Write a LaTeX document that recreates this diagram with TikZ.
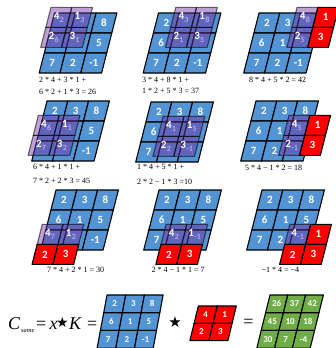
\documentclass[tikz,border=0pt]{standalone}
\usepackage{fontspec}
\setmainfont{Liberation Serif}
\newfontfamily\numfont{Carlito}
\newfontfamily\symfont{DejaVu Sans}
\definecolor{cblue}{RGB}{83,148,212}
\definecolor{cpurple}{RGB}{112,48,160}
\definecolor{clav}{RGB}{190,165,232}
\definecolor{cgreen}{RGB}{112,173,71}
\def\setiv#1#2#3{\expandafter\def\csname iv#1#2\endcsname{#3}}
\setiv00{2}\setiv01{3}\setiv02{8}
\setiv10{6}\setiv11{1}\setiv12{5}
\setiv20{7}\setiv21{2}\setiv22{-1}
\def\setkv#1#2#3{\expandafter\def\csname kv#1#2\endcsname{#3}}
\setkv00{4}\setkv01{1}\setkv10{2}\setkv11{3}
\newcommand\subn{\color{clav}\fontsize{8}{8}\selectfont}
\newcommand\convpanel[4]{%
\begin{scope}[shift={(#1pt,-#2pt)}, x={(20.8pt,0pt)}, y={(-5.1pt,-20pt)}]
\foreach \r in {0,1,2}{\foreach \c in {0,1,2}{
  \draw[cellb] (\c,\r) -- ++(1,0) -- ++(0,1) -- ++(-1,0) -- cycle;
  \pgfmathtruncatemacro\cov{and(and(\c>=#3,\c<=#3+1),and(\r>=#4,\r<=#4+1))}
  \ifnum\cov=0
    \node[num] at (\c+0.5,\r+0.5) {\csname iv\r\c\endcsname};
  \fi
}}
\foreach \i in {0,1}{\foreach \j in {0,1}{
  \pgfmathtruncatemacro\gr{#4+\i}
  \pgfmathtruncatemacro\gc{#3+\j}
  \pgfmathtruncatemacro\ins{and(\gr<3,\gc<3)}
  \ifnum\ins=1
    \fill[kpur] (\gc-0.24,\gr-0.28) -- ++(1,0) -- ++(0,1) -- ++(-1,0) -- cycle;
  \else
    \fill[red] (\gc-0.24,\gr-0.28) -- ++(1,0) -- ++(0,1) -- ++(-1,0) -- cycle;
  \fi
}}
\foreach \i in {0,1}{\foreach \j in {0,1}{
  \pgfmathtruncatemacro\gr{#4+\i}
  \pgfmathtruncatemacro\gc{#3+\j}
  \pgfmathtruncatemacro\ins{and(\gr<3,\gc<3)}
  \ifnum\ins=1
    \draw[kborder] (\gc-0.24,\gr-0.28) -- ++(1,0) -- ++(0,1) -- ++(-1,0) -- cycle;
    \node[num] at (\gc+0.26,\gr+0.22) {\csname kv\i\j\endcsname\kern0.3pt\raisebox{-3pt}{\subn\csname iv\gr\gc\endcsname}};
  \else
    \draw[kredb] (\gc-0.24,\gr-0.28) -- ++(1,0) -- ++(0,1) -- ++(-1,0) -- cycle;
    \node[num] at (\gc+0.26,\gr+0.22) {\csname kv\i\j\endcsname};
  \fi
}}
\end{scope}}
\begin{document}
\begin{tikzpicture}[
  cellb/.style={fill=cblue, draw=black, line width=1.1pt, line join=round},
  kpur/.style={fill=cpurple, fill opacity=0.45},
  kborder/.style={draw=black, draw opacity=0.55, line width=1.1pt, line join=round},
  kredb/.style={draw=black, line width=1.1pt, line join=round},
  num/.style={text=white, font=\numfont\bfseries\fontsize{11}{11}\selectfont, inner sep=0pt},
  snum/.style={text=white, font=\numfont\bfseries\fontsize{9}{9}\selectfont, inner sep=0pt},
  fml/.style={font=\fontsize{8}{9}\selectfont, inner sep=0pt, anchor=west},
  eqt/.style={font=\fontsize{18}{18}\selectfont, inner sep=0pt, anchor=base west}
]
\useasboundingbox (0,0) rectangle (335pt,-348pt);
\fill[white] (0,0) rectangle (335pt,-348pt);
% panels
\convpanel{54.5}{13}{0}{0}
\convpanel{158.5}{13}{1}{0}
\convpanel{259}{13}{2}{0}
\convpanel{47}{101}{0}{1}
\convpanel{151}{102}{1}{1}
\convpanel{256}{101}{2}{1}
\convpanel{56}{190}{0}{2}
\convpanel{159}{190}{1}{2}
\convpanel{262}{190}{2}{2}
% formulas
\node[fml] (f1a) at (39pt,-79.5pt) {2 * 4 + 3 * 1 +};
\node[fml] (f1b) at (39pt,-92pt) {6 * 2 + 1 * 3 = 26};
\node[fml] (f2a) at (142pt,-80pt) {3 * 4 + 8 * 1 +};
\node[fml] (f2b) at (142pt,-91pt) {1 * 2 + 5 * 3 = 37};
\node[fml] (f3) at (249pt,-80pt) {8 * 4 + 5 * 2 = 42};
\node[fml] (f4a) at (33pt,-166.7pt) {6 * 4 + 1 * 1 +};
\node[fml] (f4b) at (33pt,-181pt) {7 * 2 + 2 * 3 = 45};
\node[fml] (f5a) at (137pt,-166.5pt) {1 * 4 + 5 * 1 +};
\node[fml] (f5b) at (137pt,-181.5pt) {2 * 2 − 1 * 3 =10};
\node[fml] (f6) at (245pt,-167.5pt) {5 * 4 − 1 * 2 = 18};
\node[fml] (f7) at (47pt,-270pt) {7 * 4 + 2 * 1 = 30};
\node[fml] (f8) at (151.5pt,-270pt) {2 * 4 − 1 * 1 = 7};
\node[fml] (f9) at (261.5pt,-270pt) {−1 * 4 = −4};
% bottom equation text
\node[eqt] (eC) at (8pt,-329.5pt) {\itshape C};
\node[inner sep=0pt, anchor=base west, font=\fontsize{6.5}{7}\selectfont\itshape] (es) at (21pt,-332pt) {same};
\node[eqt] (eq1) at (36pt,-329.5pt) {=};
\node[eqt] (ex) at (49.5pt,-329.5pt) {\itshape x};
\node[inner sep=0pt, font=\symfont\fontsize{14}{14}\selectfont] (est) at (62.5pt,-322pt) {★};
\node[eqt] (eK) at (69pt,-329.5pt) {\itshape K};
\node[eqt] (eq2) at (87pt,-329.5pt) {=};
% bottom input grid
\begin{scope}[shift={(107pt,-295pt)}, x={(18.7pt,0pt)}, y={(-3.3pt,-17.7pt)}]
\foreach \r/\a/\b/\cc in {0/2/3/8,1/6/1/5,2/7/2/-1}{
  \foreach \c/\v in {0/\a,1/\b,2/\cc}{
    \draw[cellb] (\c,\r) -- ++(1,0) -- ++(0,1) -- ++(-1,0) -- cycle;
    \node[snum] at (\c+0.5,\r+0.5) {\v};
  }}
\end{scope}
\node[inner sep=0pt, font=\symfont\fontsize{15}{15}\selectfont] (star) at (175pt,-322pt) {★};
% bottom kernel
\begin{scope}[shift={(198.3pt,-306pt)}, x={(19pt,0pt)}, y={(-4.2pt,-17.3pt)}]
\foreach \r/\a/\b in {0/4/1,1/2/3}{
  \foreach \c/\v in {0/\a,1/\b}{
    \draw[kredb, fill=red] (\c,\r) -- ++(1,0) -- ++(0,1) -- ++(-1,0) -- cycle;
    \node[snum] at (\c+0.5,\r+0.5) {\v};
  }}
\end{scope}
\node[inner sep=0pt, font=\fontsize{18}{18}\selectfont] (eq3) at (248.5pt,-323pt) {=};
% output grid
\begin{scope}[shift={(270pt,-295pt)}, x={(17.8pt,0pt)}, y={(-4.4pt,-17.7pt)}]
\foreach \r/\a/\b/\cc in {0/26/37/42,1/45/10/18,2/30/7/-4}{
  \foreach \c/\v in {0/\a,1/\b,2/\cc}{
    \draw[cellb, fill=cgreen] (\c,\r) -- ++(1,0) -- ++(0,1) -- ++(-1,0) -- cycle;
    \node[snum] at (\c+0.5,\r+0.5) {\v};
  }}
\end{scope}
\end{tikzpicture}
\end{document}
